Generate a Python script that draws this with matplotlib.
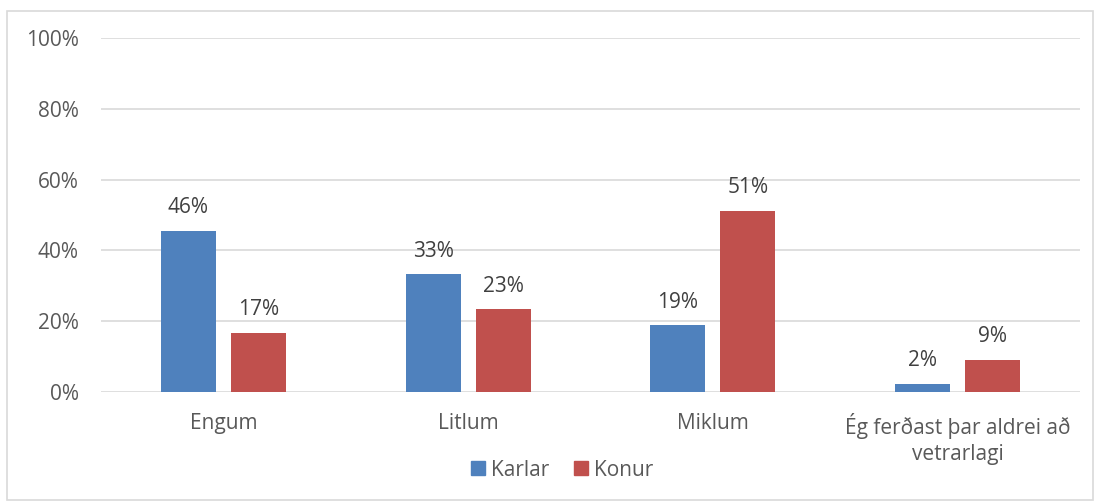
import matplotlib
matplotlib.use("Agg")
import matplotlib.pyplot as plt
import numpy as np
from matplotlib.patches import Rectangle, Patch

categories = ["Engum", "Litlum", "Miklum", "Ég ferðast þar aldrei að\nvetrarlagi"]
series_names = ["Karlar", "Konur"]
karlar = [45.6, 33.3, 18.8, 2.3]
konur = [16.7, 23.3, 51.2, 9.0]
labels_karlar = ["46%", "33%", "19%", "2%"]
labels_konur = ["17%", "23%", "51%", "9%"]
yticks = [0, 20, 40, 60, 80, 100]
ytick_labels = ["0%", "20%", "40%", "60%", "80%", "100%"]

colors = ["#4F81BD", "#C0504D"]
txt = "#595959"
plt.rcParams['font.family'] = ['Open Sans', 'DejaVu Sans']
fs = 15

fig = plt.figure(figsize=(11.01, 5.04), dpi=100)
ax = fig.add_axes([101/1101, 1-391.7/504, (1080-101)/1101, (391.7-38.3)/504])

x = np.arange(len(categories))
w = 0.225
off = 0.143
b1 = ax.bar(x - off, karlar, w, color=colors[0], zorder=3)
b2 = ax.bar(x + off, konur, w, color=colors[1], zorder=3)
for bars, labs in ((b1, labels_karlar), (b2, labels_konur)):
    for r, l in zip(bars, labs):
        ax.annotate(l, (r.get_x() + r.get_width()/2, r.get_height()),
                    xytext=(0, 9), textcoords="offset points",
                    ha="center", va="bottom", fontsize=fs, color="#404040")

ax.set_xlim(-0.5, len(categories) - 0.5)
ax.set_ylim(0, 100)
ax.set_yticks(yticks)
ax.set_yticklabels(ytick_labels, fontsize=fs, color=txt)
ax.set_xticks(x)
ax.set_xticklabels(categories, fontsize=fs, color=txt, linespacing=1.3)
ax.tick_params(axis='both', length=0)
ax.tick_params(axis='y', pad=16)
ax.tick_params(axis='x', pad=15.5)
ax.grid(axis='y', color="#D9D9D9", linewidth=1.2, zorder=0)
for s in ax.spines.values():
    s.set_visible(False)

handles = [Patch(color=colors[0], label=series_names[0]),
           Patch(color=colors[1], label=series_names[1])]
leg = fig.legend(handles=handles, loc="center", bbox_to_anchor=(562/1101, 1-470/504),
                 ncol=2, frameon=False, fontsize=fs, handlelength=0.65, handleheight=0.65,
                 handletextpad=0.3, columnspacing=1.2)
for t in leg.get_texts():
    t.set_color(txt)

fig.patches.append(Rectangle((7/1101, 1-500/504), (1093-7)/1101, (500-11)/504,
                             transform=fig.transFigure, fill=False,
                             edgecolor="#D9D9D9", linewidth=1.2))

fig.savefig("out.png", dpi=100)
